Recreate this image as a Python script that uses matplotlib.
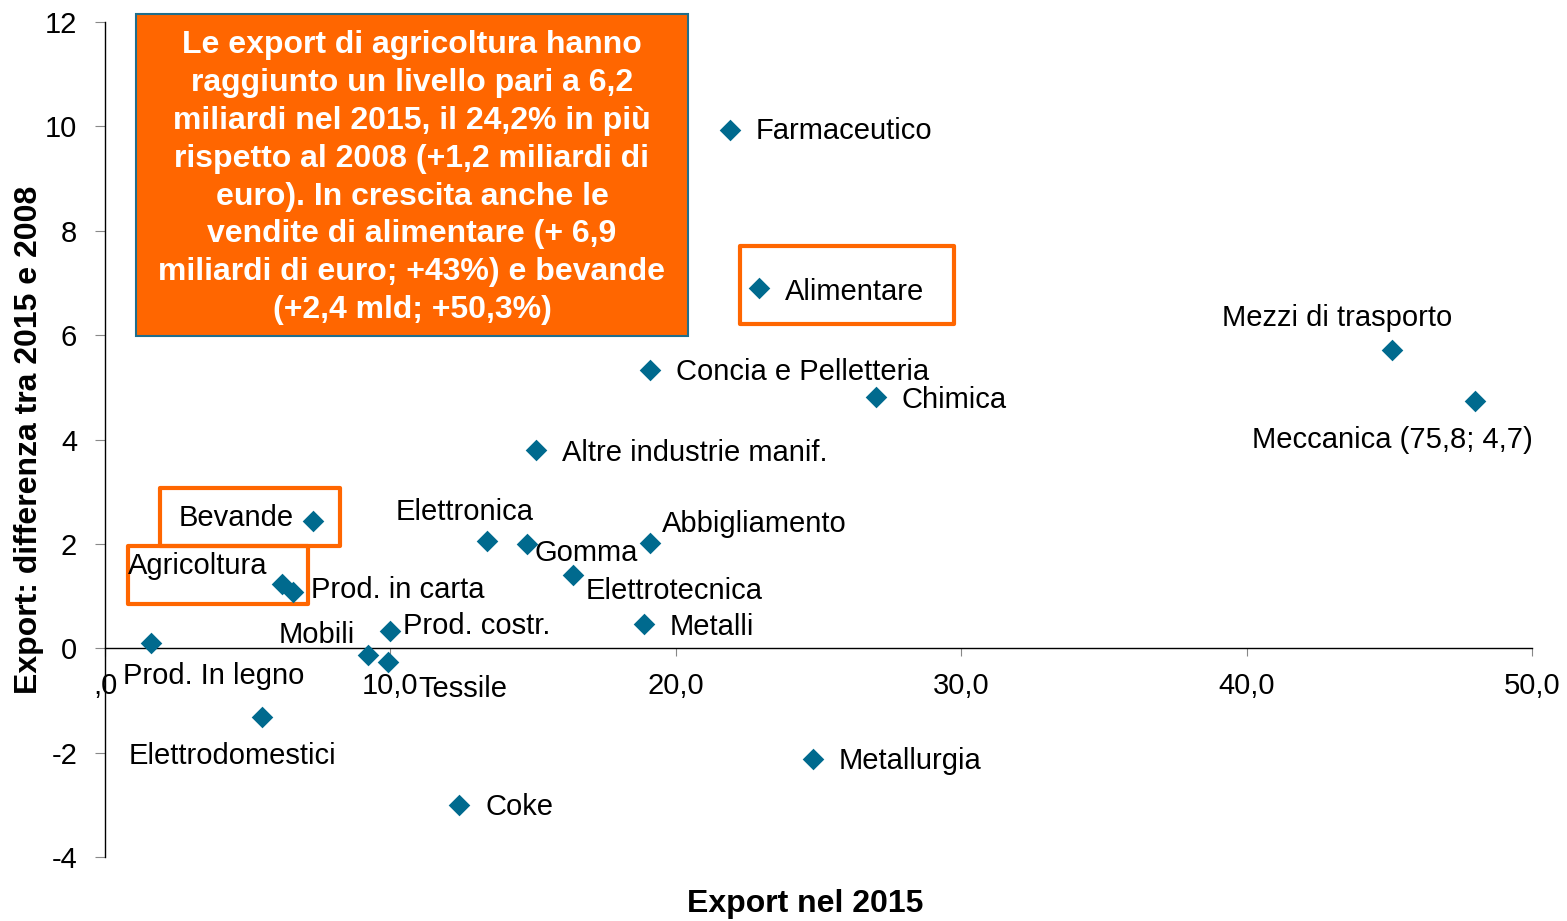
import matplotlib
matplotlib.use("Agg")
import matplotlib.pyplot as plt
from matplotlib.patches import Rectangle

plt.rcParams['font.family'] = ['Liberation Sans', 'DejaVu Sans']
plt.rcParams['axes.unicode_minus'] = False

# Export 2015 (mld euro) and difference 2015-2008 (mld euro)
sectors = ['Farmaceutico', 'Alimentare', 'Concia e Pelletteria', 'Chimica',
           'Altre industrie manif.', 'Mezzi di trasporto', 'Meccanica (75,8; 4,7)',
           'Bevande', 'Elettronica', 'Gomma', 'Abbigliamento', 'Elettrotecnica',
           'Agricoltura', 'Prod. in carta', 'Prod. costr.', 'Metalli',
           'Prod. In legno', 'Mobili', 'Tessile', 'Elettrodomestici',
           'Metallurgia', 'Coke']
# Meccanica (75,8) is drawn at the right edge of the axis
export_2015 = [21.9, 22.9, 19.1, 27.0, 15.1, 45.1, 48.0, 7.3, 13.4, 14.8, 19.1, 16.4,
               6.2, 6.6, 10.0, 18.9, 1.6, 9.2, 9.9, 5.5, 24.8, 12.4]
diff_2015_2008 = [9.93, 6.9, 5.33, 4.81, 3.8, 5.72, 4.73, 2.43, 2.05, 2.0, 2.02, 1.4,
                  1.23, 1.07, 0.34, 0.46, 0.1, -0.12, -0.27, -1.32, -2.13, -3.0]

x_ticks = [0, 10, 20, 30, 40, 50]
x_tick_labels = [',0', '10,0', '20,0', '30,0', '40,0', '50,0']
y_ticks = [-4, -2, 0, 2, 4, 6, 8, 10, 12]

highlighted = ['Alimentare', 'Bevande', 'Agricoltura']

note = ("Le export di agricoltura hanno\n"
        "raggiunto un livello pari a 6,2\n"
        "miliardi nel 2015, il 24,2% in più\n"
        "rispetto al 2008 (+1,2 miliardi di\n"
        "euro). In crescita anche le\n"
        "vendite di alimentare (+ 6,9\n"
        "miliardi di euro; +43%) e bevande\n"
        "(+2,4 mld; +50,3%)")

# label placement: (dx, dy in pixels, horizontal alignment)
label_pos = {
    'Farmaceutico': (26, -1, 'left'),
    'Alimentare': (26, -4, 'left'),
    'Concia e Pelletteria': (26, -2, 'left'),
    'Chimica': (26, -3, 'left'),
    'Altre industrie manif.': (26, -3, 'left'),
    'Mezzi di trasporto': (-55, 32, 'center'),
    'Meccanica (75,8; 4,7)': (-83, -39, 'center'),
    'Bevande': (-20, 3, 'right'),
    'Elettronica': (-23, 29, 'center'),
    'Gomma': (7, -9, 'left'),
    'Abbigliamento': (12, 19, 'left'),
    'Elettrotecnica': (13, -16, 'left'),
    'Agricoltura': (-15, 18, 'right'),
    'Prod. in carta': (18, 2, 'left'),
    'Prod. costr.': (13, 5, 'left'),
    'Metalli': (25, -3, 'left'),
    'Prod. In legno': (63, -33, 'center'),
    'Mobili': (-13, 20, 'right'),
    'Tessile': (31, -27, 'left'),
    'Elettrodomestici': (-30, -39, 'center'),
    'Metallurgia': (26, -2, 'left'),
    'Coke': (27, -2, 'left'),
}

# orange frames around highlighted labels (data coords: x0, y0, x1, y1)
frames = {
    'Alimentare': (22.26, 6.21, 29.76, 7.70),
    'Bevande': (1.93, 1.95, 8.24, 3.07),
    'Agricoltura': (0.81, 0.84, 7.12, 1.95),
}

orange = '#FF6600'
blue = '#006A8E'

fig = plt.figure(figsize=(15.67, 9.21), dpi=100)
ax = fig.add_axes([0.067, 0.0695, 0.9107, 0.9066])

ax.scatter(export_2015, diff_2015_2008, marker='D', s=11 ** 2, color=blue,
           linewidths=0, zorder=3, clip_on=False)

for name, x, y in zip(sectors, export_2015, diff_2015_2008):
    dx, dy, ha = label_pos[name]
    ax.annotate(name, (x, y), xytext=(dx, dy), textcoords='offset pixels',
                ha=ha, va='center', fontsize=21, color='black', zorder=4)

for name in highlighted:
    x0, y0, x1, y1 = frames[name]
    ax.add_patch(Rectangle((x0, y0), x1 - x0, y1 - y0, fill=False,
                           edgecolor=orange, linewidth=3, joinstyle='round',
                           zorder=2, clip_on=False))

ax.set_xlim(0, 50)
ax.set_ylim(-4, 12)
ax.set_xticks(x_ticks)
ax.set_xticklabels(x_tick_labels)
ax.set_yticks(y_ticks)

ax.spines['top'].set_visible(False)
ax.spines['right'].set_visible(False)
ax.spines['bottom'].set_position(('data', 0))
ax.spines['left'].set_position(('data', 0))
for sp in ['bottom', 'left']:
    ax.spines[sp].set_color('black')
    ax.spines[sp].set_linewidth(1.0)

ax.tick_params(axis='x', direction='out', length=6, width=0.8, color='#888888',
               labelsize=21, pad=11)
ax.tick_params(axis='y', direction='out', length=7, width=0.8, color='#888888',
               labelsize=21, pad=13)

ax.set_xlabel('Export nel 2015', fontsize=23, fontweight='bold')
ax.xaxis.set_label_coords(0.4905, -0.038)
ax.set_ylabel('Export: differenza tra 2015 e 2008', fontsize=23, fontweight='bold')
ax.yaxis.set_label_coords(-0.043, 0.5)

# note box
bx0, bx1 = 136 / 1567, 688 / 1567
by0, by1 = 1 - 336 / 921, 1 - 14 / 921
fig.patches.append(Rectangle((bx0, by0), bx1 - bx0, by1 - by0, transform=fig.transFigure,
                             facecolor=orange, edgecolor='#1F6E8C', linewidth=1.5,
                             zorder=5))
fig.text((bx0 + bx1) / 2, (by0 + by1) / 2 - 0.003, note, ha='center', va='center',
         color='white', fontsize=23, fontweight='bold', linespacing=1.34, zorder=6)

fig.savefig('out.png', dpi=100)
